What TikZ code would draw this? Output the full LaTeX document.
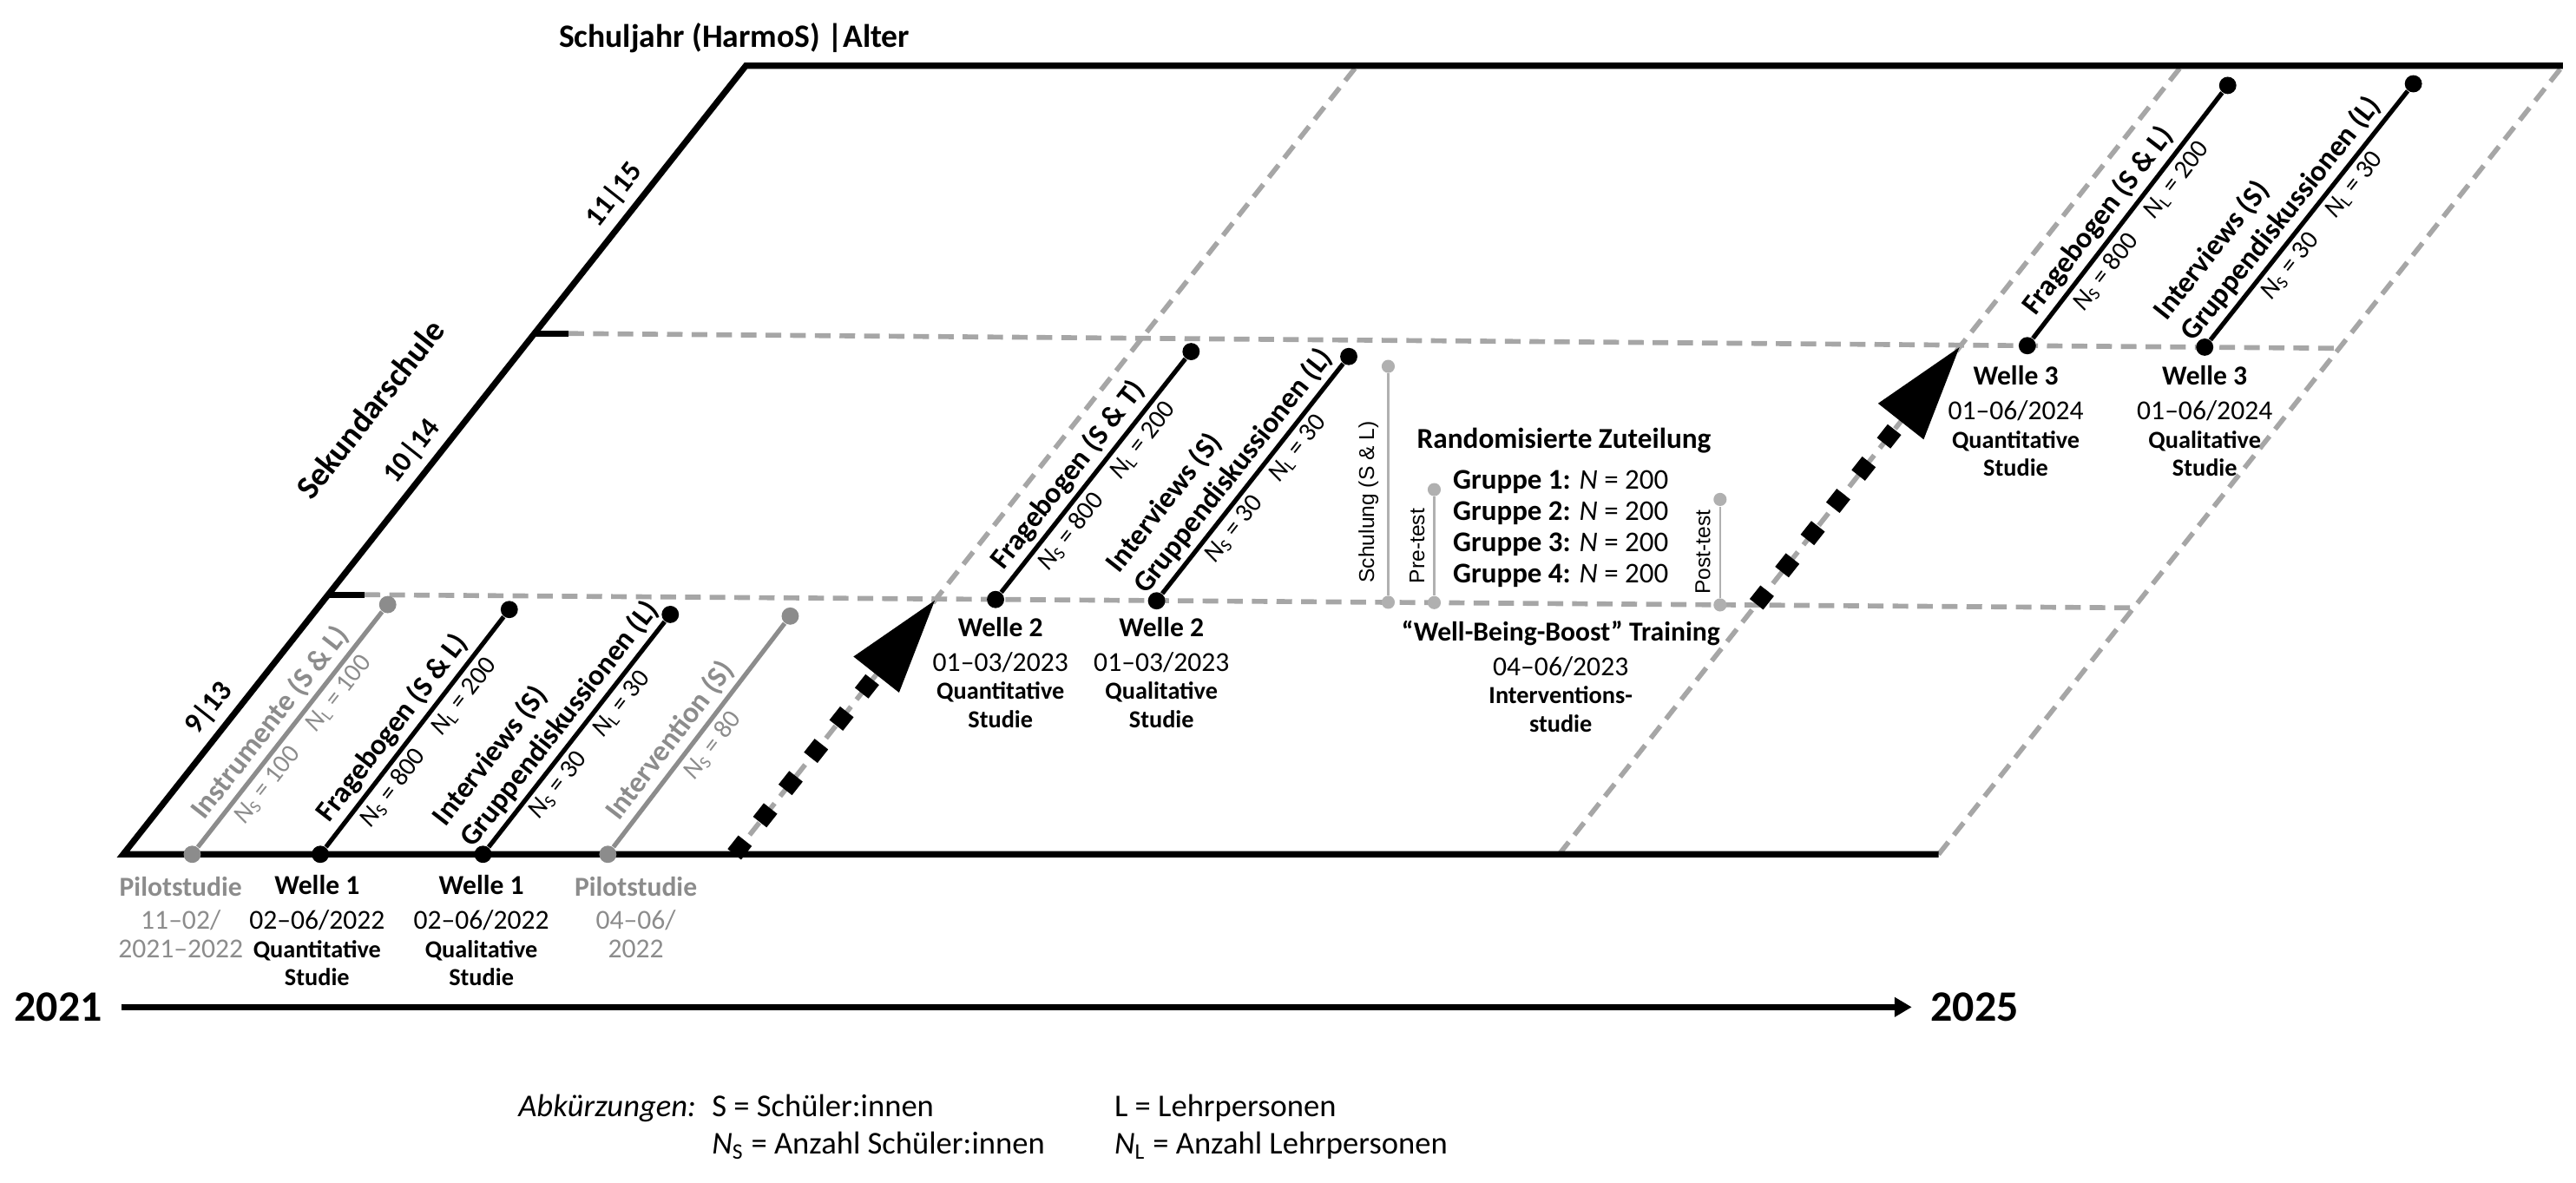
\documentclass[tikz,border=0pt]{standalone}
\usepackage{fontspec}
\setmainfont{Carlito}
\newfontfamily\arialfont{Liberation Sans}
\usetikzlibrary{arrows.meta,calc}
\definecolor{dashgray}{HTML}{A6A6A6}
\definecolor{pilotgray}{HTML}{8C8C8C}
\definecolor{testgray}{HTML}{B0B0B0}
\newcommand{\studyfont}{\fontsize{8.5}{9.8}\selectfont\bfseries}
\newcommand{\Ns}{\textit{N}\textsubscript{S}}
\newcommand{\Nl}{\textit{N}\textsubscript{L}}
\begin{document}
\begin{tikzpicture}[
  x=0.2mm, y=-0.2mm,
  outline/.style={line width=0.75mm},
  guide/.style={dashgray,line width=0.6mm,dash pattern=on 1.9mm off 1.1mm},
  stick/.style={line width=0.55mm},
  dot/.style={circle,fill,inner sep=0pt,minimum size=2.1mm},
  tdot/.style={circle,fill=testgray,inner sep=0pt,minimum size=1.6mm},
  tline/.style={testgray,line width=0.25mm},
  wave/.style={line width=2.1mm,dash pattern=on 2.1mm off 2.9mm,-{Triangle[length=12mm,width=6.4mm]}},
  timeline/.style={line width=0.7mm,-{Triangle[length=2.1mm,width=2.3mm]}},
  grade/.style={font=\fontsize{10}{11}\selectfont\bfseries,sloped,above,inner sep=2.5pt},
  lab/.style={font=\fontsize{10.2}{12}\selectfont\bfseries,sloped,anchor=south west,inner sep=1.5pt},
  nlab/.style={font=\fontsize{9}{10}\selectfont,sloped,below,inner sep=1.5pt},
  vlab/.style={font=\arialfont\fontsize{7.4}{8}\selectfont,text=black,sloped,above,inner sep=3pt},
  wlab/.style={align=center,anchor=north,inner sep=0pt,font=\fontsize{9.5}{9.8}\selectfont},
  year/.style={font=\fontsize{15}{16}\selectfont\bfseries,inner sep=0pt,inner xsep=2.25mm},
  legend/.style={font=\fontsize{11}{12}\selectfont,inner sep=0pt}]
  \useasboundingbox (0,0) rectangle (1568,720);
  \node[font=\fontsize{11.3}{12}\selectfont\bfseries] (title) at (447,23) {Schuljahr (HarmoS) |Alter};

  % grid of school years
  \coordinate (bl) at (75,520);
  \coordinate (tl) at (454,40);
  \coordinate (tr) at (1560,40);
  \coordinate (br) at (1180,520);
  \coordinate (s1b) at (447,520);
  \coordinate (s1t) at (826,40);
  \coordinate (s2b) at (949,520);
  \coordinate (s2t) at (1328,40);
  \coordinate (m0) at (200,362);
  \coordinate (m1) at (222,362);
  \coordinate (m2) at (1299,370);
  \coordinate (u0) at (326,203);
  \coordinate (u1) at (346,203);
  \coordinate (u2) at (1423,212);
  \draw[guide] (br) -- (tr);
  \draw[guide] (s1b) -- (s1t);
  \draw[guide] (s2b) -- (s2t);
  \draw[guide] (m1) -- (m2);
  \draw[guide] (u1) -- (u2);
  \draw[outline] (m0) -- (m1);
  \draw[outline] (u0) -- (u1);
  \draw[outline] (br) -- (bl)
    -- node[grade,pos=.167] (g9) {9|13}
       node[grade,pos=.493] (g10) {10|14}
       node[grade,pos=.818] (g11) {11|15}
       node[sloped,pos=.5,above=20pt,font=\fontsize{11.5}{12}\selectfont\bfseries] (sek) {Sekundarschule}
    (tl) -- (tr);

  % transitions between the waves
  \coordinate (a1) at ($(s1b)!.326!(s1t)$);
  \coordinate (a2s) at ($(s2b)!.317!(s2t)$);
  \coordinate (a2) at ($(s2b)!.647!(s2t)$);
  \draw[wave] (s1b) -- (a1);
  \draw[wave] (a2s) -- (a2);

  % wave 1
  \node[dot,pilotgray] (ins0) at (117,520) {};
  \node[dot,pilotgray] (ins1) at (236,368) {};
  \draw[stick,pilotgray] (ins0) -- (ins1)
    node[lab,pos=.06] (insl) {Instrumente (S \& L)}
    node[nlab,midway] (insn) {\Ns\ = 100\quad\Nl\ = 100};
  \node[dot] (fb1a) at (195,520) {};
  \node[dot] (fb1b) at (310,371) {};
  \draw[stick] (fb1a) -- (fb1b)
    node[lab,pos=.05] (fb1l) {Fragebogen (S \& L)}
    node[nlab,midway] (fb1n) {\Ns\ = 800\quad\Nl\ = 200};
  \node[dot] (gd1a) at (294,520) {};
  \node[dot] (gd1b) at (408,374) {};
  \draw[stick] (gd1a) -- (gd1b)
    node[lab,align=left,pos=-.06] (gd1l) {Interviews (S)\\Gruppendiskussionen (L)}
    node[nlab,midway] (gd1n) {\Ns\ = 30\quad\Nl\ = 30};
  \node[dot,pilotgray] (itv0) at (370,520) {};
  \node[dot,pilotgray] (itv1) at (481,375) {};
  \draw[stick,pilotgray] (itv0) -- (itv1)
    node[lab,pos=.06] (itvl) {Intervention (S)}
    node[nlab,midway] (itvn) {\Ns\ = 80};

  % wave 2
  \node[dot] (fb2a) at (606,364.9) {};
  \node[dot] (fb2b) at (725,214) {};
  \draw[stick] (fb2a) -- (fb2b)
    node[lab,pos=.04] (fb2l) {Fragebogen (S \& T)}
    node[nlab,midway] (fb2n) {\Ns\ = 800\quad\Nl\ = 200};
  \node[dot] (gd2a) at (704,365.7) {};
  \node[dot] (gd2b) at (821,217) {};
  \draw[stick] (gd2a) -- (gd2b)
    node[lab,align=left,pos=-.06] (gd2l) {Interviews (S)\\Gruppendiskussionen (L)}
    node[nlab,midway] (gd2n) {\Ns\ = 30\quad\Nl\ = 30};

  % training
  \node[tdot] (sch0) at (845,366.6) {};
  \node[tdot] (sch1) at (845,223) {};
  \draw[tline] (sch0) -- (sch1) node[vlab,pos=.42] (schl) {Schulung (S \& L)};
  \node[tdot] (pre0) at (873,366.8) {};
  \node[tdot] (pre1) at (873,298) {};
  \draw[tline] (pre0) -- (pre1) node[vlab,midway] (prel) {Pre-test};
  \node[tdot] (post0) at (1047,368.2) {};
  \node[tdot] (post1) at (1047,304) {};
  \draw[tline] (post0) -- (post1) node[vlab,midway] (postl) {Post-test};
  \node[font=\fontsize{10}{10}\selectfont\bfseries] (zut) at (952,268) {Randomisierte Zuteilung};
  \node[wlab,font=\fontsize{9.9}{10.8}\selectfont] (grp) at (950,286.2)
    {\textbf{Gruppe 1:} \textit{N} = 200\\\textbf{Gruppe 2:} \textit{N} = 200\\
     \textbf{Gruppe 3:} \textit{N} = 200\\\textbf{Gruppe 4:} \textit{N} = 200};

  % wave 3
  \node[dot] (fb3a) at (1234,210.4) {};
  \node[dot] (fb3b) at (1356,52) {};
  \draw[stick] (fb3a) -- (fb3b)
    node[lab,pos=.04] (fb3l) {Fragebogen (S \& L)}
    node[nlab,midway] (fb3n) {\Ns\ = 800\quad\Nl\ = 200};
  \node[dot] (gd3a) at (1342,211.3) {};
  \node[dot] (gd3b) at (1469,51) {};
  \draw[stick] (gd3a) -- (gd3b)
    node[lab,align=left,pos=-.06] (gd3l) {Interviews (S)\\Gruppendiskussionen (L)}
    node[nlab,midway] (gd3n) {\Ns\ = 30\quad\Nl\ = 30};

  % study labels
  \node[wlab,pilotgray] (pil1) at (110,533.4) {\textbf{Pilotstudie}\\[1.6pt]11–02/\\2021–2022};
  \node[wlab] (w1n) at (193,532.4) {\textbf{Welle 1}\\[2.2pt]02–06/2022\\{\studyfont Quantitative}\\{\studyfont Studie}};
  \node[wlab] (w1l) at (293,532.4) {\textbf{Welle 1}\\[2.2pt]02–06/2022\\{\studyfont Qualitative}\\{\studyfont Studie}};
  \node[wlab,pilotgray] (pil2) at (387,533.4) {\textbf{Pilotstudie}\\[1.6pt]04–06/\\2022};
  \node[wlab] (w2n) at (609,375.4) {\textbf{Welle 2}\\[2.2pt]01–03/2023\\{\studyfont Quantitative}\\{\studyfont Studie}};
  \node[wlab] (w2l) at (707,375.4) {\textbf{Welle 2}\\[2.2pt]01–03/2023\\{\studyfont Qualitative}\\{\studyfont Studie}};
  \node[wlab] (train) at (950,377.4) {\textbf{“Well-Being-Boost” Training}\\[2.2pt]04–06/2023\\{\studyfont Interventions-}\\{\studyfont studie}};
  \node[wlab] (w3n) at (1227,222.4) {\textbf{Welle 3}\\[2.2pt]01–06/2024\\{\studyfont Quantitative}\\{\studyfont Studie}};
  \node[wlab] (w3l) at (1342,222.4) {\textbf{Welle 3}\\[2.2pt]01–06/2024\\{\studyfont Qualitative}\\{\studyfont Studie}};

  % time axis
  \node[year] (y21) at (35.5,613) {2021};
  \node[year] (y25) at (1202,613) {2025};
  \draw[timeline] (y21) -- (y25);

  % abbreviations
  \node[legend,anchor=base east] (abk) at (424,679.7) {\textit{Abkürzungen:}};
  \node[legend,anchor=base west] (lS) at (433,679.7) {S = Schüler:innen};
  \node[legend,anchor=base west] (lL) at (678,679.7) {L = Lehrpersonen};
  \node[legend,anchor=base west] (lNS) at (433,702.5) {\Ns\ = Anzahl Schüler:innen};
  \node[legend,anchor=base west] (lNL) at (678,702.5) {\Nl\ = Anzahl Lehrpersonen};
\end{tikzpicture}
\end{document}
